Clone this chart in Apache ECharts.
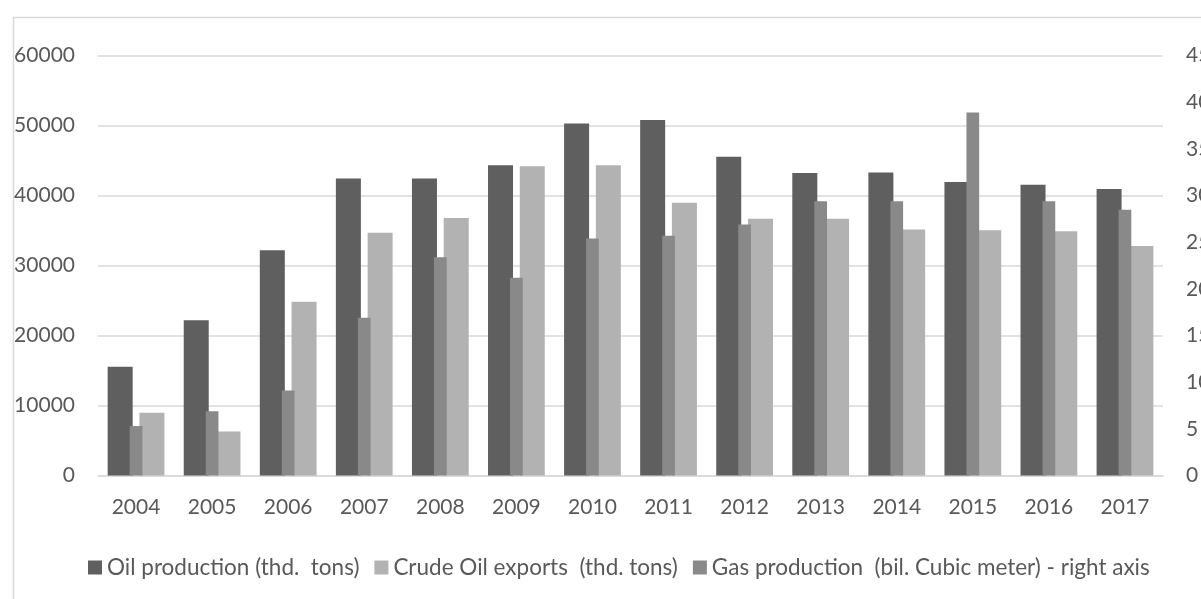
<!DOCTYPE html>
<html>
<head>
<meta charset="utf-8">
<script src="https://cdn.jsdelivr.net/npm/echarts@6/dist/echarts.min.js"></script>
<style>
html,body{margin:0;padding:0;background:#fff;}
#chart{width:1201px;height:599px;}
</style>
</head>
<body>
<div id="chart"></div>
<script>
const years = ['2004','2005','2006','2007','2008','2009','2010','2011','2012','2013','2014','2015','2016','2017'];
const oilProduction = [15550, 22200, 32200, 42450, 42450, 44350, 50300, 50800, 45550, 43250, 43300, 41950, 41550, 40950];
const crudeOilExports = [8970, 6300, 24830, 34700, 36800, 44200, 44350, 38970, 36700, 36700, 35170, 35070, 34900, 32800];
const gasProduction = [5.3, 6.9, 9.1, 16.9, 23.4, 21.2, 25.4, 25.7, 26.9, 29.4, 29.4, 38.9, 29.4, 28.5];
const seriesNames = ['Oil production (thd.  tons)', 'Crude Oil exports  (thd. tons)', 'Gas production  (bil. Cubic meter) - right axis'];

const FONT = 'Lato';
const FS = 21;
const TXT = '#595959';
const plain = v => String(v);

const chart = echarts.init(document.getElementById('chart'));
chart.setOption({
  animation: false,
  backgroundColor: '#fff',
  textStyle: { fontFamily: FONT },
  graphic: [{
    type: 'rect', left: 11, top: 15,
    shape: { width: 1400, height: 800 },
    style: { fill: 'none', stroke: '#d9d9d9', lineWidth: 1.5 },
    silent: true, z: -10
  }],
  grid: { left: 98, right: 38, top: 55.7, bottom: 123.5, outerBoundsMode: 'none', containLabel: false },
  legend: {
    data: seriesNames,
    left: 83, top: 551,
    icon: 'rect', itemWidth: 14, itemHeight: 14, itemGap: 15,
    textStyle: { color: TXT, fontSize: 22.5, fontFamily: FONT }
  },
  xAxis: [{
    type: 'category', data: years,
    axisLine: { lineStyle: { color: '#d9d9d9', width: 1.5 } },
    axisTick: { show: false },
    axisLabel: { color: TXT, fontSize: FS, fontFamily: FONT, margin: 21 }
  }, {
    type: 'category', data: years, show: false
  }],
  yAxis: [{
    type: 'value', min: 0, max: 60000, interval: 10000,
    axisLine: { show: false }, axisTick: { show: false },
    splitLine: { lineStyle: { color: '#d9d9d9', width: 1.5 } },
    axisLabel: { color: TXT, fontSize: FS, fontFamily: FONT, margin: 23, formatter: plain }
  }, {
    type: 'value', min: 0, max: 45, interval: 5,
    axisLine: { show: false }, axisTick: { show: false },
    splitLine: { show: false },
    axisLabel: { color: TXT, fontSize: FS, fontFamily: FONT, margin: 23, formatter: plain }
  }],
  series: [{
    name: seriesNames[0], type: 'bar', xAxisIndex: 0, yAxisIndex: 0,
    data: oilProduction, barWidth: 25, barGap: '27%',
    itemStyle: { color: '#5f5f5f' }
  }, {
    name: seriesNames[1], type: 'bar', xAxisIndex: 0, yAxisIndex: 0,
    data: crudeOilExports, barWidth: 25, barGap: '27%',
    itemStyle: { color: '#b2b2b2' }
  }, {
    name: seriesNames[2], type: 'bar', xAxisIndex: 1, yAxisIndex: 1,
    data: gasProduction, barWidth: 12.7, z: 3,
    itemStyle: { color: '#898989' }
  }]
});
</script>
</body>
</html>
